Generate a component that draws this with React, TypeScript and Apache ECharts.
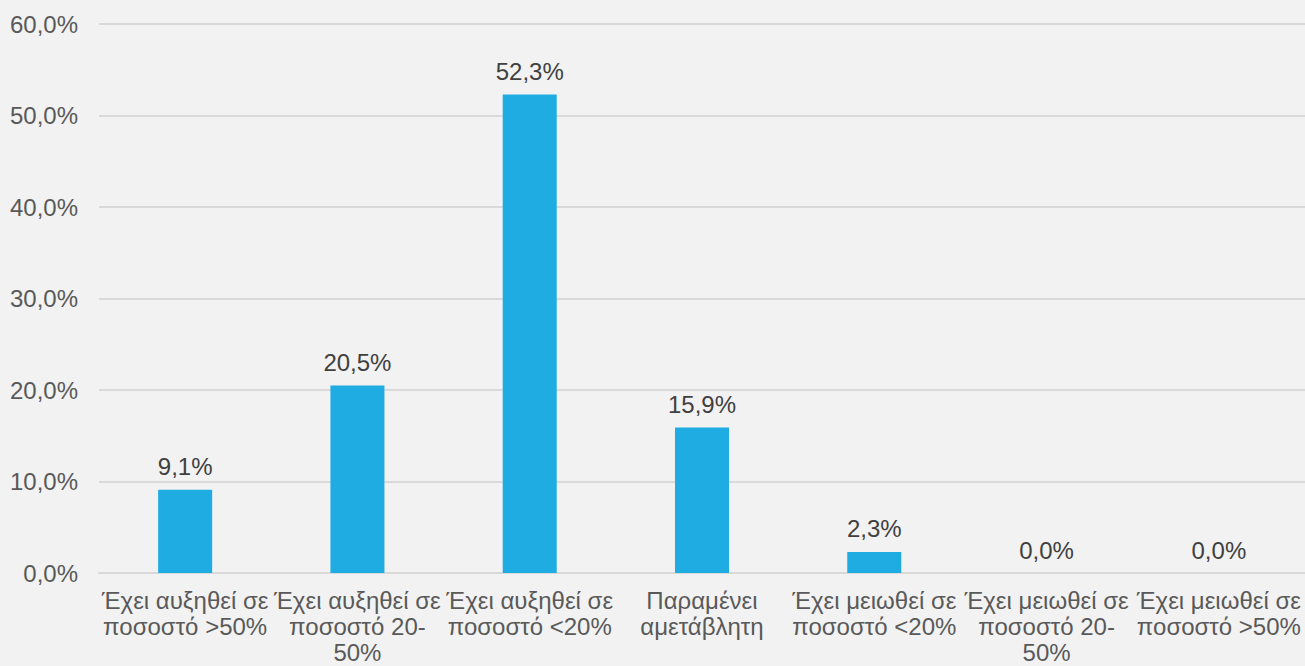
import React, { useEffect, useRef } from "react";
import * as echarts from "echarts";

const categories = [
  "Έχει αυξηθεί σε\nποσοστό >50%",
  "Έχει αυξηθεί σε\nποσοστό 20-\n50%",
  "Έχει αυξηθεί σε\nποσοστό <20%",
  "Παραμένει\nαμετάβλητη",
  "Έχει μειωθεί σε\nποσοστό <20%",
  "Έχει μειωθεί σε\nποσοστό 20-\n50%",
  "Έχει μειωθεί σε\nποσοστό >50%",
];
const values = [9.1, 20.5, 52.3, 15.9, 2.3, 0.0, 0.0];
const yMin = 0;
const yMax = 60;
const yStep = 10;

const fmt = (v: number) => v.toFixed(1).replace(".", ",") + "%";

export default function App() {
  const ref = useRef<HTMLDivElement>(null);
  useEffect(() => {
    document.body.style.margin = "0";
    const chart = echarts.init(ref.current!, undefined, { renderer: "svg" });
    const font = "'Liberation Sans', Arial, sans-serif";
    chart.setOption({
      animation: false,
      backgroundColor: "#F2F2F2",
      textStyle: { fontFamily: font },
      grid: {
        left: 99,
        right: 0,
        top: 24,
        bottom: 93,
        containLabel: false,
        outerBoundsMode: "none",
      },
      xAxis: {
        type: "category",
        data: categories,
        axisLine: { show: true, lineStyle: { color: "#D9D9D9", width: 2 } },
        axisTick: { show: false },
        axisLabel: {
          interval: 0,
          color: "#595959",
          fontSize: 24,
          fontFamily: font,
          lineHeight: 26,
          margin: 14,
          align: "center",
          hideOverlap: false,
        },
      },
      yAxis: {
        type: "value",
        min: yMin,
        max: yMax,
        interval: yStep,
        axisLine: { show: false },
        axisTick: { show: false },
        splitLine: { lineStyle: { color: "#D9D9D9", width: 2 } },
        axisLabel: {
          color: "#595959",
          fontSize: 24,
          fontFamily: font,
          margin: 21,
          formatter: (v: number) => fmt(v),
        },
      },
      series: [
        {
          type: "bar",
          data: values,
          barWidth: 54,
          itemStyle: { color: "#1EACE3" },
          label: {
            show: true,
            position: "top",
            distance: 11,
            color: "#404040",
            fontSize: 24,
            fontFamily: font,
            formatter: (p: any) => fmt(p.value),
          },
        },
      ],
    });
    return () => chart.dispose();
  }, []);
  return (
    <div
      ref={ref}
      style={{ position: "absolute", left: 0, top: 0, width: 1305, height: 666 }}
    />
  );
}
